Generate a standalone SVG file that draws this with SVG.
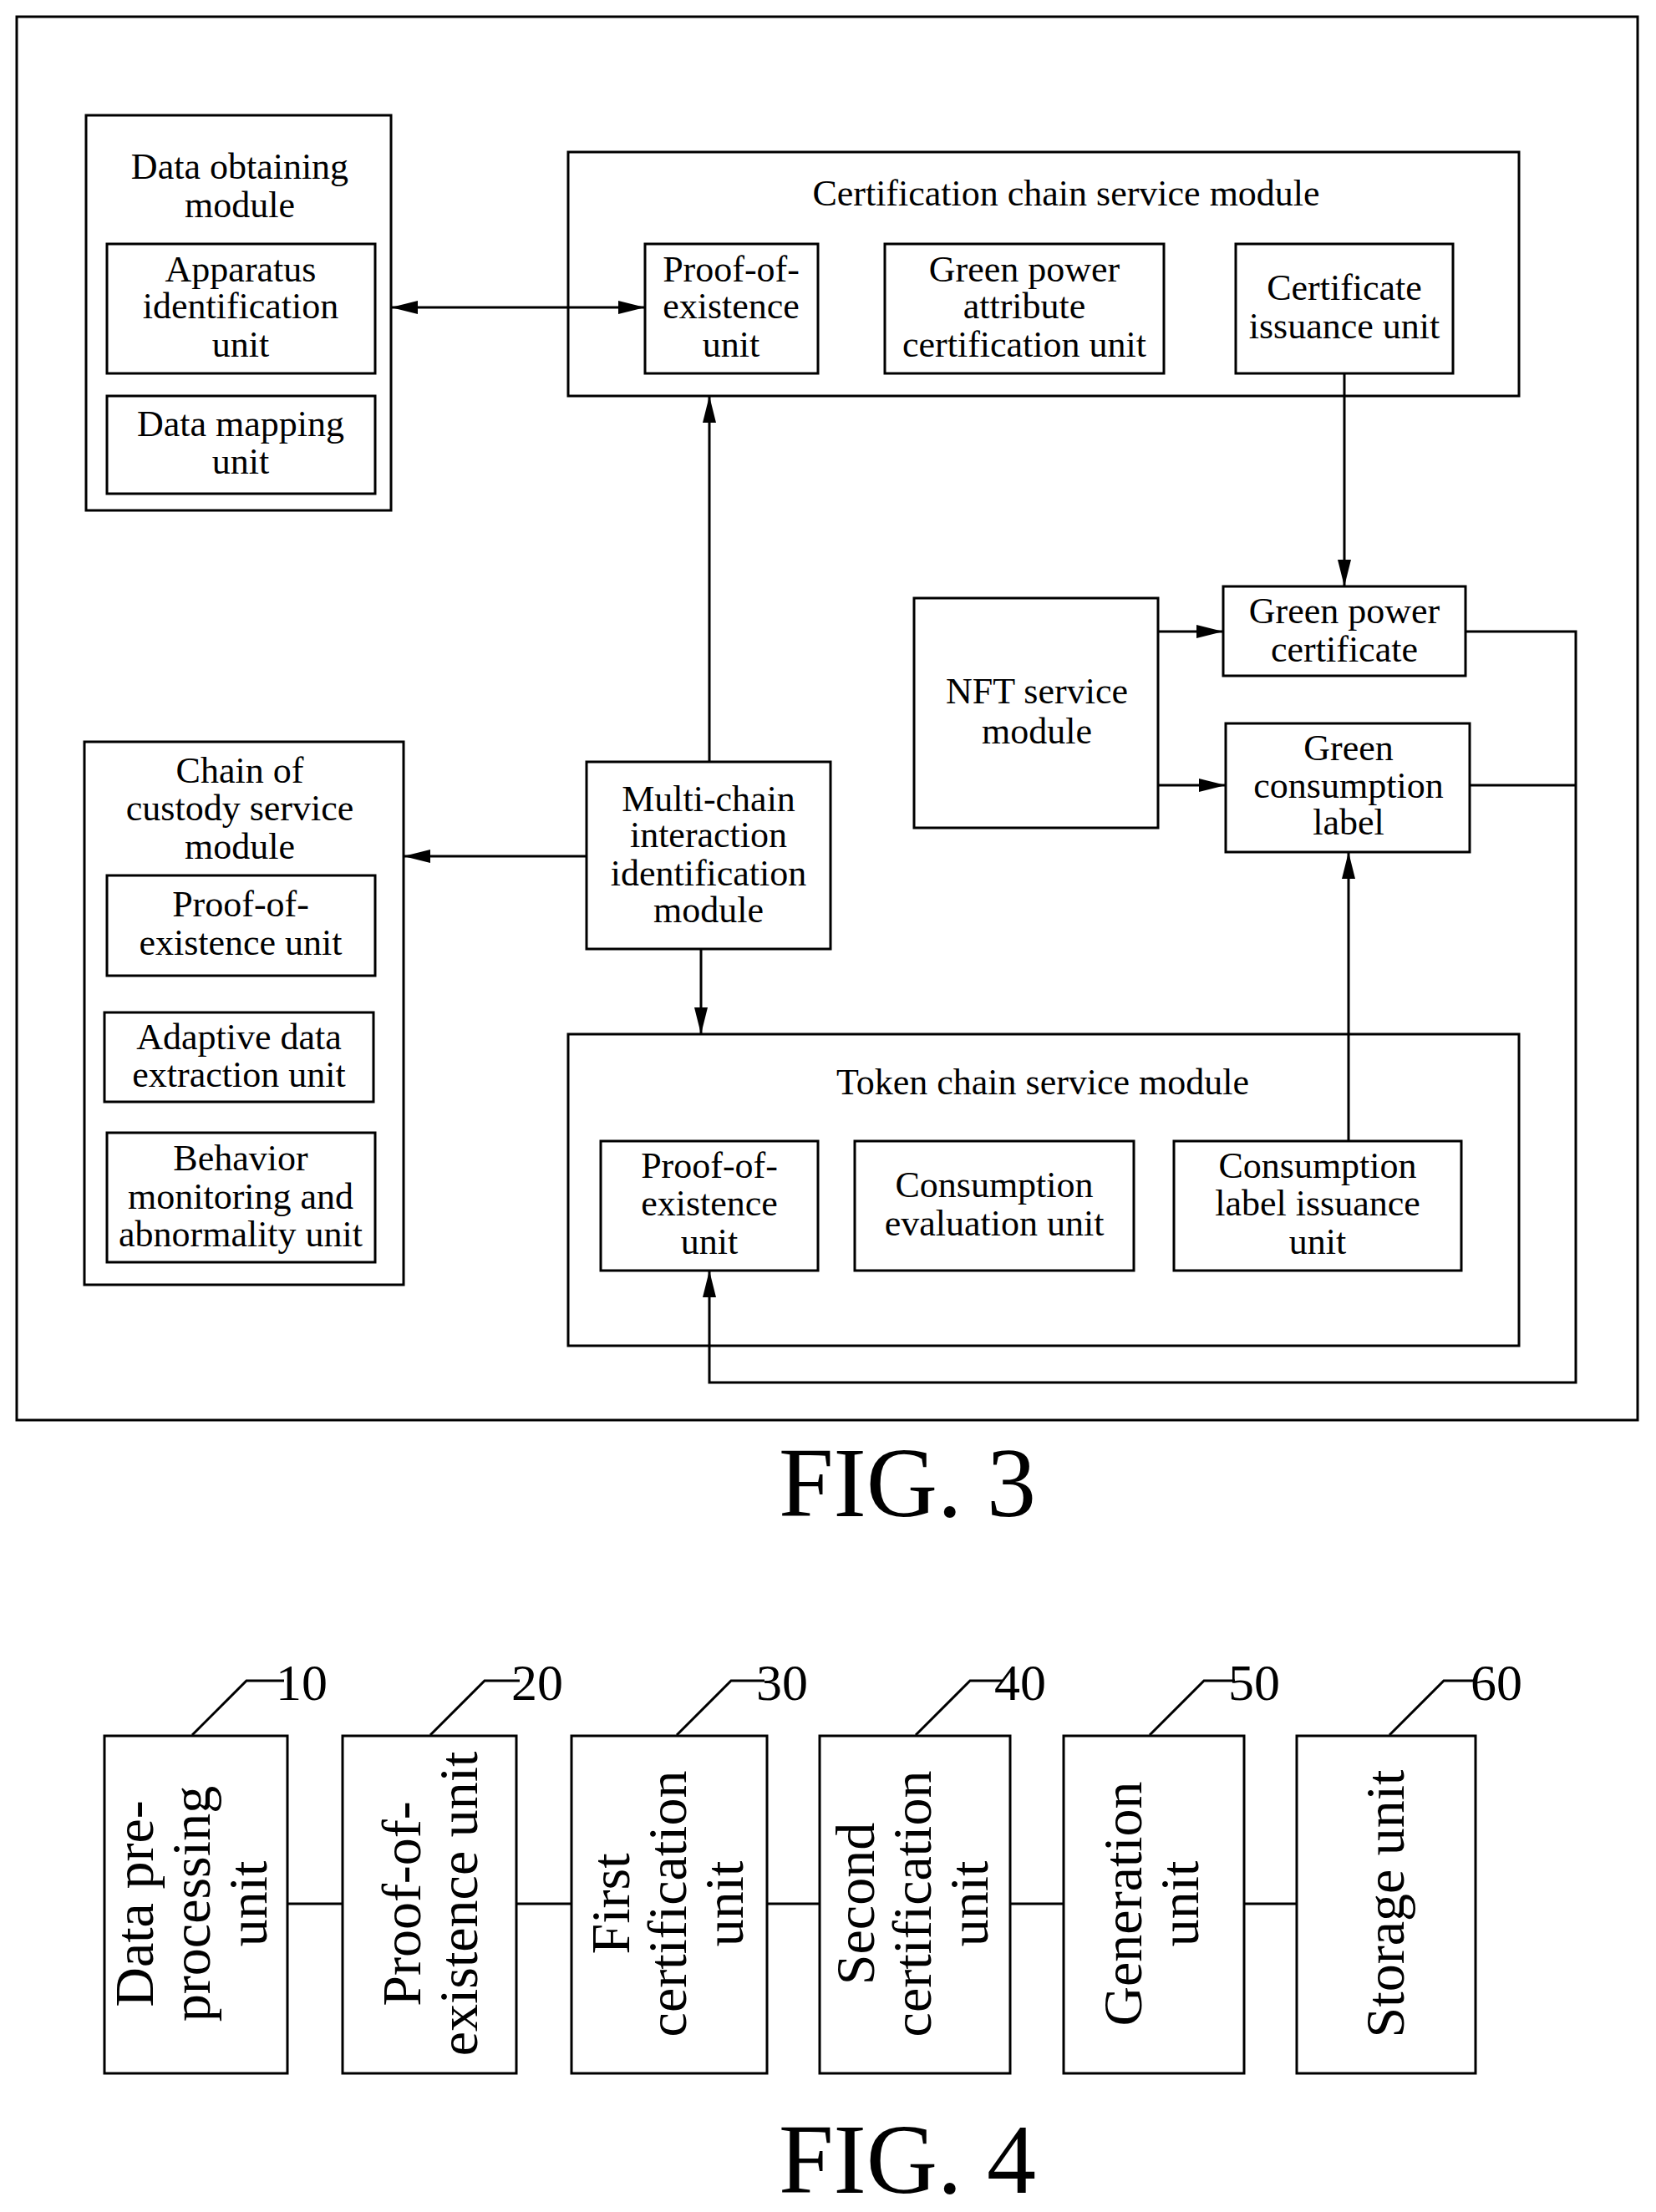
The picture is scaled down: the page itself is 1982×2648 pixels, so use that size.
<svg xmlns="http://www.w3.org/2000/svg" width="1982" height="2648" viewBox="0 0 1982 2648">
<style>
rect{fill:none;stroke:#000;stroke-width:3}
text{font-family:"Liberation Serif",serif;font-size:44px;text-anchor:middle;dominant-baseline:central;fill:#000}
.c line,.c polyline{stroke:#000;stroke-width:3;fill:none}
.r{font-size:66px}
.fig{font-size:118px;dominant-baseline:alphabetic}
.n{font-size:62px;text-anchor:start}
</style>
<defs><marker id="b" viewBox="0 0 10 10" refX="10" refY="5" markerWidth="32" markerHeight="16" markerUnits="userSpaceOnUse" orient="auto-start-reverse" preserveAspectRatio="none"><path d="M0,0L10,5L0,10z"/></marker></defs>
<rect x="20" y="20" width="1940" height="1680"/>
<g id="dataObt"><rect x="103" y="138" width="365" height="473"/><text x="287" y="199">Data obtaining</text><text x="287" y="245">module</text>
<rect x="128" y="292" width="321" height="155"/><text x="288" y="322">Apparatus</text><text x="288" y="366">identification</text><text x="288" y="412">unit</text>
<rect x="128" y="474" width="321" height="117"/><text x="288" y="507">Data mapping</text><text x="288" y="552">unit</text></g>
<g id="cert"><rect x="680" y="182" width="1138" height="292"/><text x="1276" y="231">Certification chain service module</text>
<rect x="772" y="292" width="207" height="155"/><text x="875" y="322">Proof-of-</text><text x="875" y="366">existence</text><text x="875" y="412">unit</text>
<rect x="1059" y="292" width="334" height="155"/><text x="1226" y="322">Green power</text><text x="1226" y="366">attribute</text><text x="1226" y="412">certification unit</text>
<rect x="1479" y="292" width="260" height="155"/><text x="1609" y="344">Certificate</text><text x="1609" y="390">issuance unit</text></g>
<g id="gpc"><rect x="1464" y="702" width="290" height="107"/><text x="1609" y="731">Green power</text><text x="1609" y="777">certificate</text></g>
<g id="nft"><rect x="1094" y="716" width="292" height="275"/><text x="1241" y="827">NFT service</text><text x="1241" y="875">module</text></g>
<g id="gcl"><rect x="1467" y="866" width="292" height="154"/><text x="1614" y="895">Green</text><text x="1614" y="940">consumption</text><text x="1614" y="984">label</text></g>
<g id="coc"><rect x="101" y="888" width="382" height="650"/><text x="287" y="922">Chain of</text><text x="287" y="967">custody service</text><text x="287" y="1013">module</text>
<rect x="128" y="1048" width="321" height="120"/><text x="288" y="1082">Proof-of-</text><text x="288" y="1128">existence unit</text>
<rect x="125" y="1212" width="322" height="107"/><text x="286" y="1241">Adaptive data</text><text x="286" y="1286">extraction unit</text>
<rect x="128" y="1356" width="321" height="155"/><text x="288" y="1386">Behavior</text><text x="288" y="1432">monitoring and</text><text x="288" y="1477">abnormality unit</text></g>
<g id="multi"><rect x="702" y="912" width="292" height="224"/><text x="848" y="956">Multi-chain</text><text x="848" y="999">interaction</text><text x="848" y="1045">identification</text><text x="848" y="1089">module</text></g>
<g id="token"><rect x="680" y="1238" width="1138" height="373"/><text x="1248" y="1295">Token chain service module</text>
<rect x="719" y="1366" width="260" height="155"/><text x="849" y="1395">Proof-of-</text><text x="849" y="1440">existence</text><text x="849" y="1486">unit</text>
<rect x="1023" y="1366" width="334" height="155"/><text x="1190" y="1418">Consumption</text><text x="1190" y="1464">evaluation unit</text>
<rect x="1405" y="1366" width="344" height="155"/><text x="1577" y="1395">Consumption</text><text x="1577" y="1440">label issuance</text><text x="1577" y="1486">unit</text></g>
<g class="c" id="connectors">
<line x1="468" y1="368" x2="772" y2="368" marker-start="url(#b)" marker-end="url(#b)"/>
<line x1="1609" y1="447" x2="1609" y2="702" marker-end="url(#b)"/>
<line x1="1386" y1="756" x2="1464" y2="756" marker-end="url(#b)"/>
<line x1="1386" y1="940" x2="1467" y2="940" marker-end="url(#b)"/>
<polyline points="1754,756 1886,756 1886,1655 849,1655 849,1521" marker-end="url(#b)"/>
<line x1="1759" y1="940" x2="1886" y2="940"/>
<line x1="849" y1="912" x2="849" y2="474" marker-end="url(#b)"/>
<line x1="702" y1="1025" x2="483" y2="1025" marker-end="url(#b)"/>
<line x1="839" y1="1136" x2="839" y2="1238" marker-end="url(#b)"/>
<line x1="1614" y1="1366" x2="1614" y2="1020" marker-end="url(#b)"/>
<line x1="344" y1="2279" x2="410" y2="2279"/>
<line x1="618" y1="2279" x2="684" y2="2279"/>
<line x1="918" y1="2279" x2="981" y2="2279"/>
<line x1="1209" y1="2279" x2="1273" y2="2279"/>
<line x1="1489" y1="2279" x2="1552" y2="2279"/>
<polyline points="230,2077 295,2012 340,2012"/>
<polyline points="515,2077 580,2012 622,2012"/>
<polyline points="810,2077 875,2012 915,2012"/>
<polyline points="1096,2077 1161,2012 1200,2012"/>
<polyline points="1376,2077 1441,2012 1478,2012"/>
<polyline points="1663,2077 1728,2012 1768,2012"/>
</g>
<text class="fig" x="1086" y="1815">FIG. 3</text>
<g id="u10"><rect x="125" y="2078" width="219" height="404"/><g transform="translate(0,2279) rotate(-90)"><text class="r" x="0" y="160">Data pre-</text><text class="r" x="0" y="228">processing</text><text class="r" x="0" y="296">unit</text></g><text class="n" x="330" y="2014">10</text></g>
<g id="u20"><rect x="410" y="2078" width="208" height="404"/><g transform="translate(0,2279) rotate(-90)"><text class="r" x="0" y="480">Proof-of-</text><text class="r" x="0" y="548">existence unit</text></g><text class="n" x="612" y="2014">20</text></g>
<g id="u30"><rect x="684" y="2078" width="234" height="404"/><g transform="translate(0,2279) rotate(-90)"><text class="r" x="0" y="730">First</text><text class="r" x="0" y="798">certification</text><text class="r" x="0" y="866">unit</text></g><text class="n" x="905" y="2014">30</text></g>
<g id="u40"><rect x="981" y="2078" width="228" height="404"/><g transform="translate(0,2279) rotate(-90)"><text class="r" x="0" y="1023">Second</text><text class="r" x="0" y="1091">certification</text><text class="r" x="0" y="1159">unit</text></g><text class="n" x="1190" y="2014">40</text></g>
<g id="u50"><rect x="1273" y="2078" width="216" height="404"/><g transform="translate(0,2279) rotate(-90)"><text class="r" x="0" y="1343">Generation</text><text class="r" x="0" y="1411">unit</text></g><text class="n" x="1470" y="2014">50</text></g>
<g id="u60"><rect x="1552" y="2078" width="214" height="404"/><g transform="translate(0,2279) rotate(-90)"><text class="r" x="0" y="1657">Storage unit</text></g><text class="n" x="1760" y="2014">60</text></g>
<text class="fig" x="1086" y="2625">FIG. 4</text>
</svg>
